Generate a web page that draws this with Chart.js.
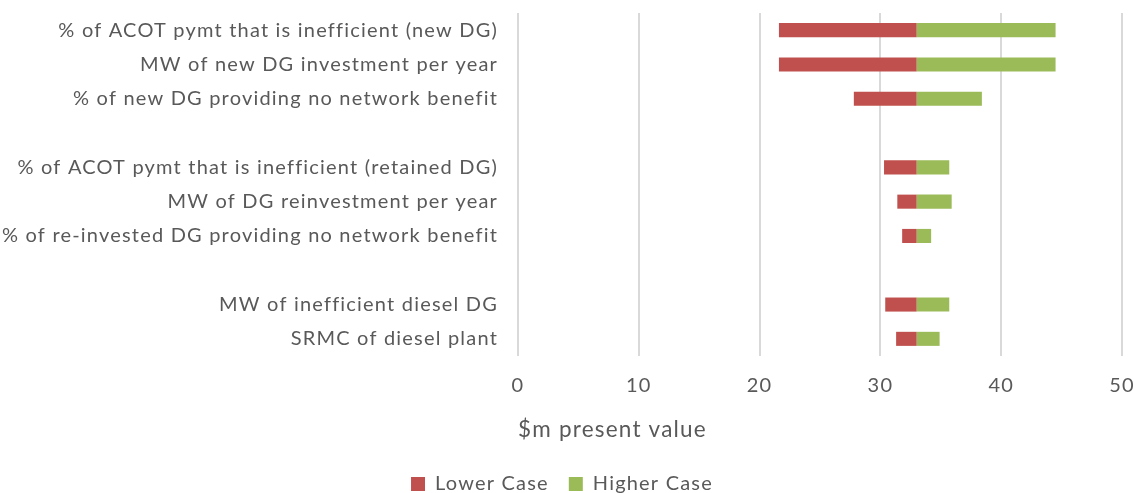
<!DOCTYPE html>
<html>
<head>
<meta charset="utf-8">
<script src="https://cdn.jsdelivr.net/npm/chart.js@4"></script>
<style>
  html, body { margin: 0; padding: 0; background: #fff; }
  #wrap { width: 1134px; height: 493px; }
</style>
</head>
<body>
<div id="wrap"><canvas id="tornadoChart"></canvas></div>
<script>
// Tornado chart data ($m present value)
const categories = [
    '% of ACOT pymt that is inefficient (new DG)',
    'MW of new DG investment per year',
    '% of new DG providing no network benefit',
    '',
    '% of ACOT pymt that is inefficient (retained DG)',
    'MW of DG reinvestment per year',
    '% of re-invested DG providing no network benefit',
    '',
    'MW of inefficient diesel DG',
    'SRMC of diesel plant'
];
const baseValue = 33.0;
const lowerValues = [21.6, 21.6, 27.8, null, 30.3, 31.4, 31.8, null, 30.4, 31.3];
const higherValues = [44.5, 44.5, 38.4, null, 35.7, 35.9, 34.2, null, 35.7, 34.9];
const xTicks = [0, 10, 20, 30, 40, 50];

const FONT = 'Lato, "Open Sans", sans-serif';
const SPACING = '1.2px';

// the original text is a bit spaced out; canvas resets state on resize so set it every pass
const letterSpacingPlugin = {
    id: 'letterSpacing',
    beforeUpdate: chart => { chart.ctx.letterSpacing = SPACING; },
    beforeLayout: chart => { chart.ctx.letterSpacing = SPACING; },
    beforeDraw: chart => { chart.ctx.letterSpacing = SPACING; }
};

const ctx = document.getElementById('tornadoChart').getContext('2d');
new Chart(ctx, {
    type: 'bar',
    data: {
        labels: categories,
        datasets: [{
            label: 'Lower Case',
            data: lowerValues.map(v => v === null ? null : [v, baseValue]),
            backgroundColor: '#C0504D',
            grouped: false,
            barPercentage: 0.82,
            categoryPercentage: 0.5
        }, {
            label: 'Higher Case',
            data: higherValues.map(v => v === null ? null : [baseValue, v]),
            backgroundColor: '#9BBB59',
            grouped: false,
            barPercentage: 0.82,
            categoryPercentage: 0.5
        }]
    },
    plugins: [letterSpacingPlugin],
    options: {
        indexAxis: 'y',
        responsive: true,
        maintainAspectRatio: false,
        animation: false,
        layout: {
            padding: { top: 13, right: 0, left: -10, bottom: -11 }
        },
        scales: {
            x: {
                min: xTicks[0],
                max: xTicks[xTicks.length - 1],
                afterBuildTicks: axis => {
                    axis.ticks = xTicks.map(v => ({ value: v }));
                },
                afterFit: axis => {
                    axis.paddingLeft = 0;
                    axis.paddingRight = 12;
                },
                grid: {
                    color: '#D9D9D9',
                    lineWidth: 2,
                    drawTicks: false
                },
                border: { display: false },
                ticks: {
                    color: '#595959',
                    padding: 18,
                    font: { family: FONT, size: 20 }
                },
                title: {
                    display: true,
                    text: '$m present value',
                    align: 'start',
                    color: '#595959',
                    padding: { top: 0, bottom: 11 },
                    font: { family: FONT, size: 22.5 }
                }
            },
            y: {
                afterFit: axis => {
                    axis.paddingTop = 0;
                    axis.paddingBottom = 0;
                },
                grid: { display: false },
                border: { display: false },
                ticks: {
                    color: '#595959',
                    padding: 12,
                    autoSkip: false,
                    font: { family: FONT, size: 20 }
                }
            }
        },
        plugins: {
            legend: {
                position: 'bottom',
                labels: {
                    color: '#595959',
                    boxWidth: 14,
                    boxHeight: 14,
                    padding: 20,
                    font: { family: FONT, size: 20 }
                }
            },
            tooltip: { enabled: false }
        }
    }
});
</script>
</body>
</html>
